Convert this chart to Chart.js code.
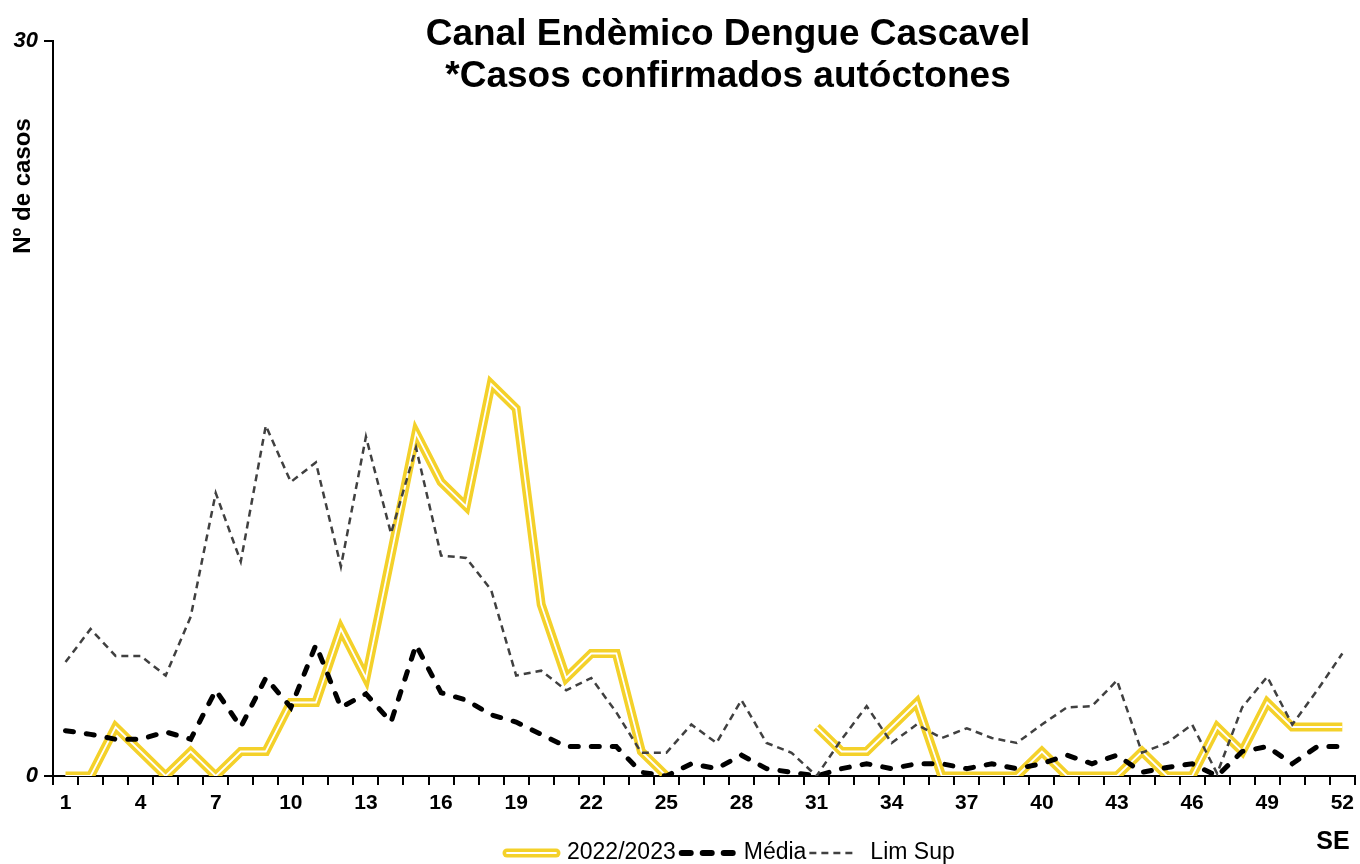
<!doctype html>
<html lang="pt">
<head>
  <meta charset="utf-8">
  <title>Canal Endèmico Dengue Cascavel</title>
  <style>
    * { margin: 0; padding: 0; }
    body { background: #fff; }
    .chartBox { width: 1360px; height: 864px; }
  </style>
</head>
<body>
  <div class="chartBox">
    <canvas id="myChart"></canvas>
  </div>
  <script src="https://cdn.jsdelivr.net/npm/chart.js"></script>
  <script>
    // data
    const semanas = ['1','2','3','4','5','6','7','8','9','10','11','12','13','14','15','16','17','18','19','20',
      '21','22','23','24','25','26','27','28','29','30','31','32','33','34','35','36','37','38','39','40',
      '41','42','43','44','45','46','47','48','49','50','51','52'];

    const casos2223 = [0, 0, 2, 1, 0, 1, 0, 1, 1, 3, 3, 6, 4, 9, 14, 12, 11, 16, 15, 7,
      4, 5, 5, 1, 0, null, null, null, null, null, 2, 1, 1, 2, 3, 0, 0, 0, 0, 1,
      0, 0, 0, 1, 0, 0, 2, 1, 3, 2, 2, 2];

    const media = [1.85, 1.7, 1.5, 1.5, 1.8, 1.5, 3.5, 2.0, 4.0, 2.8, 5.35, 2.8, 3.35, 2.2, 5.35, 3.4, 3.1, 2.5, 2.2, 1.7,
      1.2, 1.2, 1.2, 0.15, 0, 0.5, 0.3, 0.85, 0.3, 0.15, 0, 0.3, 0.5, 0.3, 0.5, 0.5, 0.3, 0.5, 0.3, 0.5,
      0.85, 0.5, 0.85, 0.15, 0.35, 0.5, 0, 1.0, 1.2, 0.5, 1.2, 1.2];

    const limSup = [4.65, 6.0, 4.9, 4.9, 4.1, 6.5, 11.55, 8.75, 14.3, 12.0, 12.8, 8.55, 13.85, 9.9, 13.4, 9.0, 8.9, 7.6, 4.1, 4.3,
      3.5, 4.0, 2.6, 0.95, 0.95, 2.1, 1.35, 3.1, 1.35, 0.95, 0, 1.5, 2.85, 1.35, 2.1, 1.55, 1.95, 1.55, 1.35, 2.1,
      2.8, 2.85, 3.9, 0.95, 1.35, 2.1, 0.1, 2.8, 4.05, 2.1, 3.5, 5.0];

    const yTicks = [0, 30];

    const FONT = '"Liberation Sans", Arial, sans-serif';
    const AMARELO = '#F4D12A';

    // setup
    const data = {
      labels: semanas,
      datasets: [
        {
          label: '2022/2023',
          data: casos2223,
          borderColor: AMARELO,
          borderWidth: 9,
          pointRadius: 0,
          spanGaps: false,
          order: 4
        },
        {
          label: '_inner',
          data: casos2223,
          borderColor: '#ffffff',
          borderWidth: 1.8,
          pointRadius: 0,
          spanGaps: false,
          order: 3
        },
        {
          label: 'Média',
          data: media,
          borderColor: '#000000',
          borderWidth: 5,
          borderDash: [8, 13],
          borderCapStyle: 'round',
          pointRadius: 0,
          order: 2
        },
        {
          label: 'Lim Sup',
          data: limSup,
          borderColor: '#404040',
          borderWidth: 2.5,
          borderDash: [7, 5],
          pointRadius: 0,
          order: 1
        }
      ]
    };

    // titles, axis captions and legend drawn on the canvas
    const textosPlugin = {
      id: 'textos',
      afterDraw(chart) {
        const { ctx } = chart;
        ctx.save();
        ctx.fillStyle = '#000';
        ctx.textAlign = 'center';
        ctx.textBaseline = 'middle';

        ctx.font = 'bold 37px ' + FONT;
        ctx.fillText('Canal Endèmico Dengue Cascavel', 728, 35);
        ctx.fillText('*Casos confirmados autóctones', 728, 77);

        ctx.font = 'bold 25px ' + FONT;
        ctx.fillText('SE', 1333, 842);

        ctx.save();
        ctx.translate(23, 186);
        ctx.rotate(-Math.PI / 2);
        ctx.font = 'bold 24px ' + FONT;
        ctx.fillText('Nº de casos', 0, 0);
        ctx.restore();

        // legend
        const ly = 853;
        let lx = 503;
        ctx.textAlign = 'left';
        ctx.font = '23px ' + FONT;

        ctx.lineCap = 'round';
        ctx.strokeStyle = AMARELO;
        ctx.lineWidth = 9;
        ctx.beginPath(); ctx.moveTo(lx + 4, ly); ctx.lineTo(lx + 53, ly); ctx.stroke();
        ctx.strokeStyle = '#fff';
        ctx.lineWidth = 1.8;
        ctx.beginPath(); ctx.moveTo(lx + 4, ly); ctx.lineTo(lx + 53, ly); ctx.stroke();
        lx += 64;
        ctx.fillText('2022/2023', lx, ly);
        lx += ctx.measureText('2022/2023').width + 3;

        ctx.strokeStyle = '#000';
        ctx.lineWidth = 6;
        ctx.setLineDash([9, 12]);
        ctx.beginPath(); ctx.moveTo(lx + 3, ly); ctx.lineTo(lx + 58, ly); ctx.stroke();
        lx += 65;
        ctx.fillText('Média', lx, ly);
        lx += ctx.measureText('Média').width + 3;

        ctx.lineCap = 'butt';
        ctx.strokeStyle = '#404040';
        ctx.lineWidth = 2.5;
        ctx.setLineDash([7, 5]);
        ctx.beginPath(); ctx.moveTo(lx, ly); ctx.lineTo(lx + 48, ly); ctx.stroke();
        ctx.setLineDash([]);
        lx += 61;
        ctx.fillText('Lim Sup', lx, ly);

        ctx.restore();
      }
    };

    // config
    const config = {
      type: 'line',
      data,
      options: {
        responsive: true,
        maintainAspectRatio: false,
        animation: false,
        layout: { padding: { top: 41, left: 0, right: 0, bottom: 0 } },
        plugins: {
          legend: { display: false },
          tooltip: { enabled: false }
        },
        elements: { line: { tension: 0 } },
        scales: {
          x: {
            offset: true,
            afterFit: s => { s.height = 88; },
            border: { display: true, color: '#000', width: 2 },
            grid: {
              offset: true,
              drawOnChartArea: false,
              drawTicks: true,
              tickLength: 9,
              tickColor: '#000',
              lineWidth: 2
            },
            ticks: {
              autoSkip: false,
              maxRotation: 0,
              padding: 6,
              color: '#000',
              font: { family: FONT, size: 21, weight: 'bold' },
              callback: (v, i) => (i % 3 === 0 ? semanas[i] : '')
            }
          },
          y: {
            min: yTicks[0],
            max: yTicks[1],
            afterFit: s => { s.width = 53; },
            afterBuildTicks: s => { s.ticks = yTicks.map(v => ({ value: v })); },
            border: { display: true, color: '#000', width: 2 },
            grid: {
              drawOnChartArea: false,
              drawTicks: true,
              tickLength: 9,
              tickColor: '#000',
              lineWidth: 2
            },
            ticks: {
              padding: 6,
              color: '#000',
              font: { family: FONT, size: 22, weight: 'bold', style: 'italic' }
            }
          }
        }
      },
      plugins: [textosPlugin]
    };

    // render init block
    const myChart = new Chart(document.getElementById('myChart'), config);
  </script>
</body>
</html>
